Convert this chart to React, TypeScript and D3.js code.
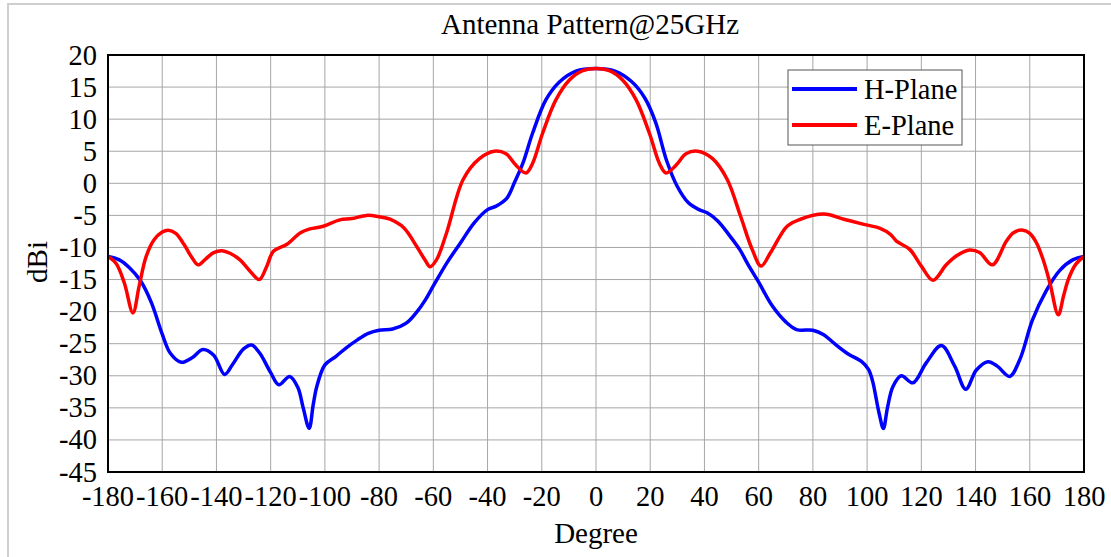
import * as d3 from "d3";

// H-plane (blue), degree / dBi pairs
const hPlane: [number, number][] = [
  [-180, -11.4], [-176, -11.9], [-172, -13.2], [-168, -15.2], [-164, -18.6], [-160, -23.5],
  [-157, -26.5], [-153, -27.9], [-149, -27.2], [-145, -25.9], [-141, -26.8], [-137, -29.8],
  [-134, -28.2], [-130, -25.8], [-127, -25.2], [-124, -26.5], [-120, -29.5], [-117, -31.4],
  [-113, -30.1], [-110, -31.8], [-108, -35], [-105.8, -38.2], [-104.3, -34.5], [-103, -31.7],
  [-100, -28.3], [-96, -27], [-92, -25.6], [-88, -24.4], [-84, -23.4], [-80, -22.9],
  [-75, -22.7], [-70, -21.8], [-66, -20], [-63, -18.2], [-60, -16], [-55, -12.4],
  [-50, -9.3], [-45, -6.2], [-40, -4.1], [-37, -3.6], [-33, -2.4], [-30, 0.2],
  [-27, 3.1], [-23.4, 7.8], [-18.5, 13], [-13.5, 15.8], [-7.4, 17.5], [0, 17.9],
  [7, 17.5], [13, 15.9], [18, 13.3], [22, 9.5], [26, 3.6], [30, -0.5],
  [34, -3.0], [38, -4.1], [41, -4.6], [45, -5.9], [49, -8], [53, -10.3],
  [56, -12.6], [60, -15.4], [65, -19.1], [70, -21.6], [74, -22.8], [80, -22.9],
  [84, -23.6], [88, -25], [93, -26.6], [98, -27.8], [100.5, -29], [102, -30.8],
  [104.4, -35.8], [106, -38.2], [107.5, -35], [109.5, -31.7], [112.6, -30], [116.9, -31.1],
  [121.8, -28], [127.4, -25.3], [132.3, -28.5], [136.4, -32.1], [140.3, -29.1], [144.6, -27.8],
  [148, -28.5], [152.6, -30.1], [156.3, -27.5], [161, -21.3], [166, -16.8], [171, -13.6],
  [176, -11.9], [180, -11.4],
];

// E-plane (red)
const ePlane: [number, number][] = [
  [-180, -11.4], [-177, -12.5], [-174, -15.5], [-170.8, -20.2], [-168.5, -16], [-166, -11.5],
  [-163, -8.8], [-160, -7.6], [-157.8, -7.3], [-155, -7.8], [-152, -9.5], [-149, -11.6],
  [-146.8, -12.7], [-144, -11.8], [-141, -10.8], [-138, -10.5], [-135, -10.9], [-131.4, -11.9],
  [-128, -13.5], [-124.2, -15.0], [-121.5, -13], [-119, -10.6], [-114, -9.5], [-109, -7.7],
  [-105.5, -7.1], [-100.6, -6.7], [-94.5, -5.7], [-90, -5.5], [-84.6, -5], [-80, -5.2],
  [-76, -5.6], [-71, -6.9], [-66.2, -9.8], [-63, -12], [-61.2, -13], [-58.8, -11.9],
  [-55.1, -7.7], [-49, 0.6], [-43, 3.85], [-37.5, 5.0], [-33.2, 4.6], [-29.5, 2.8],
  [-25.8, 1.6], [-23.4, 3.1], [-19.7, 7.8], [-14.8, 13], [-9.8, 16.1], [-4.9, 17.55],
  [0, 17.9], [4.9, 17.55], [9.8, 16.1], [14.8, 13], [19.7, 7.8], [23.4, 3.1],
  [25.8, 1.6], [29.5, 2.8], [33.2, 4.6], [37.5, 5.0], [43, 3.85], [48.4, 0.6],
  [53.3, -5.1], [57.6, -10.3], [60.9, -12.9], [64.4, -10.8], [70.5, -6.7], [75.4, -5.6],
  [84.1, -4.8], [91.4, -5.6], [98.8, -6.4], [104.6, -7.0], [108.7, -8], [110.8, -9],
  [115.7, -10.3], [120, -12.9], [124.3, -15.1], [129.2, -12.7], [133, -11.3], [137.8, -10.4],
  [141.5, -10.8], [146.2, -12.7], [151.4, -9], [154, -7.7], [157.5, -7.3], [160, -7.8],
  [162.5, -9.3], [165, -12], [167.4, -15.5], [170.5, -20.5], [172.5, -17.5], [174.2, -15],
  [177, -12.6], [180, -11.4],
];

const xTicks = d3.range(-180, 181, 20);
const yTicks = d3.range(-45, 21, 5);

const series = [
  { name: "H-Plane", color: "#0000ff", data: hPlane },
  { name: "E-Plane", color: "#ff0000", data: ePlane },
];

const W = 1111;
const H = 557;
const margin = { left: 108, right: 1084, top: 55, bottom: 472 };
const font = "'Liberation Serif', 'Times New Roman', serif";

export default function App() {
  const x = d3.scaleLinear().domain([-180, 180]).range([margin.left, margin.right]);
  const y = d3.scaleLinear().domain([-45, 20]).range([margin.bottom, margin.top]);

  const line = d3
    .line<[number, number]>()
    .x((d) => x(d[0]))
    .y((d) => y(d[1]))
    .curve(d3.curveCatmullRom.alpha(0.5));

  return (
    <svg
      width={W}
      height={H}
      style={{ position: "absolute", left: 0, top: 0, background: "#fff" }}
      fontFamily={font}
    >
      {/* outer figure frame */}
      <rect x={8} y={4} width={W} height={H} fill="#fff" stroke="#cfcfcf" strokeWidth={2} />

      {/* grid */}
      <g stroke="#a6a6a6" strokeWidth={1}>
        {xTicks.map((t) => (
          <line key={"gx" + t} x1={x(t)} x2={x(t)} y1={margin.top} y2={margin.bottom} />
        ))}
        {yTicks.map((t) => (
          <line key={"gy" + t} x1={margin.left} x2={margin.right} y1={y(t)} y2={y(t)} />
        ))}
      </g>

      {/* curves */}
      <defs>
        <clipPath id="plotClip">
          <rect x={margin.left} y={margin.top} width={margin.right - margin.left} height={margin.bottom - margin.top} />
        </clipPath>
      </defs>
      <g clipPath="url(#plotClip)">
        {series.map((s) => (
          <path key={s.name} d={line(s.data) || ""} fill="none" stroke={s.color} strokeWidth={3.5} strokeLinejoin="round" />
        ))}
      </g>

      {/* plot frame */}
      <rect
        x={margin.left}
        y={margin.top}
        width={margin.right - margin.left}
        height={margin.bottom - margin.top}
        fill="none"
        stroke="#000"
        strokeWidth={2}
      />

      {/* tick labels */}
      <g fontSize={28.5} fill="#000">
        {xTicks.map((t) => (
          <text key={"tx" + t} x={x(t)} y={506} textAnchor="middle">
            {t}
          </text>
        ))}
        {yTicks.map((t) => (
          <text key={"ty" + t} x={97} y={y(t) + 9.5} textAnchor="end">
            {t}
          </text>
        ))}
      </g>

      {/* titles */}
      <text x={590} y={34} textAnchor="middle" fontSize={29} fill="#000">
        Antenna Pattern@25GHz
      </text>
      <text x={596} y={543} textAnchor="middle" fontSize={29} fill="#000">
        Degree
      </text>
      <text transform={`translate(47, 262) rotate(-90)`} textAnchor="middle" fontSize={29} fill="#000">
        dBi
      </text>

      {/* legend */}
      <g>
        <rect x={788} y={70} width={174} height={75} fill="#fff" stroke="#555" strokeWidth={1} />
        {series.map((s, i) => (
          <g key={"lg" + s.name} transform={`translate(0, ${89 + i * 36})`}>
            <line x1={792} x2={857} y1={0} y2={0} stroke={s.color} strokeWidth={4} />
            <text x={864} y={10} fontSize={28.5} fill="#000">
              {s.name}
            </text>
          </g>
        ))}
      </g>
    </svg>
  );
}
